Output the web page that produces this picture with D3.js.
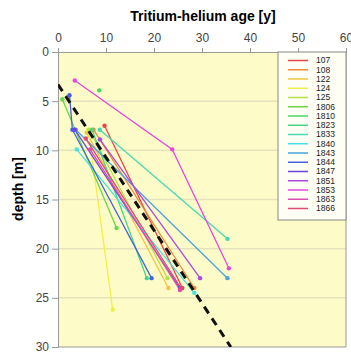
<!DOCTYPE html>
<html>
<head>
<meta charset="utf-8">
<script src="https://cdn.jsdelivr.net/npm/d3@7"></script>
<style>
  body { margin: 0; background: #fff; }
  svg { display: block; font-family: "Liberation Sans", Arial, sans-serif; }
</style>
</head>
<body>
<div id="chart"></div>
<script>
const wells = ["107", "108", "122", "124", "125", "1806", "1810", "1823", "1833", "1840",
               "1843", "1844", "1847", "1851", "1853", "1863", "1866"]
const colors = ["#e8444c", "#f08a3c", "#f2c440", "#f2ee48", "#b4e244", "#6ad848", "#48d860", "#48d684",
                "#48d8b4", "#44e2e6", "#4aa2e0", "#4462e0", "#6a44e0", "#aa48e2", "#e448e2", "#e04cb4", "#e04a74"]
// each well: [age in years, depth in m]
const ages = [
  [9.7, 25.9], [7.4, 28.4], [6.0, 23.0], [6.3, 11.4], [6.5, 22.8], [0.9, 12.2], [8.6],
  [7.1, 18.5], [8.7, 35.3], [3.9, 28.4], [3.7, 35.3], [2.4, 3.0, 19.5], [3.5, 25.4],
  [8.75, 29.6], [3.5, 23.8, 35.6], [6.7, 25.4], [5.8, 25.6]
]
const depths = [
  [7.5, 24.0], [7.9, 24.0], [8.2, 24.0], [7.9, 26.2], [7.9, 23.0], [4.8, 17.9], [3.9],
  [7.9, 23.0], [7.9, 19.0], [9.9, 24.5], [7.9, 23.0], [4.4, 7.9, 23.0], [7.9, 24.0],
  [8.9, 23.0], [2.9, 9.9, 22.0], [9.9, 24.2], [8.8, 24.0]
]
const pistonAge = [0, 36]
const pistonDepth = [3.3, 30]
const xTicks = [0, 10, 20, 30, 40, 50, 60]
const yTicks = [0, 5, 10, 15, 20, 25, 30]

const width = 351, height = 354
const margin = {top: 52, right: 5, bottom: 7, left: 58}

const svg = d3.select("#chart").append("svg")
  .attr("width", width).attr("height", height)

const x = d3.scaleLinear().domain([0, 60]).range([margin.left, width - margin.right])
const y = d3.scaleLinear().domain([0, 30]).range([margin.top, height - margin.bottom])

svg.append("defs").append("clipPath").attr("id", "clip")
  .append("rect")
  .attr("x", x(0)).attr("y", y(0))
  .attr("width", x(60) - x(0)).attr("height", y(30) - y(0))

svg.append("rect")
  .attr("x", x(0)).attr("y", y(0))
  .attr("width", x(60) - x(0)).attr("height", y(30) - y(0))
  .attr("fill", "#fdfcc9")

svg.append("g").selectAll("line")
  .data(yTicks.slice(1, -1))
  .join("line")
  .attr("x1", x(0)).attr("x2", x(60))
  .attr("y1", d => y(d)).attr("y2", d => y(d))
  .attr("stroke", "#e6e2bc").attr("stroke-width", 1.5)

const xAxis = svg.append("g")
  .attr("transform", `translate(0,${y(0)})`)
  .call(d3.axisTop(x).tickValues(xTicks).tickSize(4).tickPadding(6))
const yAxis = svg.append("g")
  .attr("transform", `translate(${x(0)},0)`)
  .call(d3.axisLeft(y).tickValues(yTicks).tickSize(6).tickPadding(3))
for (const g of [xAxis, yAxis]) {
  g.selectAll("text").attr("font-size", 12).attr("fill", "#444")
  g.selectAll("line").attr("stroke", "#999")
  g.select(".domain").attr("stroke", "#999")
}
xAxis.selectAll("text").attr("dy", "0")

// bottom and right frame
svg.append("path")
  .attr("d", `M${x(0)},${y(30)}H${x(60)}V${y(0)}`)
  .attr("fill", "none").attr("stroke", "#999")

svg.append("text")
  .attr("x", 203).attr("y", 21)
  .attr("text-anchor", "middle")
  .attr("font-size", 14).attr("font-weight", "bold")
  .text("Tritium-helium age [y]")

svg.append("text")
  .attr("transform", "translate(23,189) rotate(-90)")
  .attr("text-anchor", "middle")
  .attr("font-size", 14).attr("font-weight", "bold")
  .text("depth [m]")

const series = wells.map((w, i) => ({
  name: w,
  color: colors[i],
  points: ages[i].map((a, j) => [a, depths[i][j]])
}))

const plot = svg.append("g").attr("clip-path", "url(#clip)")
const line = d3.line().x(d => x(d[0])).y(d => y(d[1]))

plot.selectAll("path.well")
  .data(series)
  .join("path")
  .attr("class", "well")
  .attr("d", d => line(d.points))
  .attr("fill", "none")
  .attr("stroke", d => d.color)
  .attr("stroke-width", 1.3)

series.forEach(s => {
  plot.append("g").selectAll("circle")
    .data(s.points)
    .join("circle")
    .attr("cx", d => x(d[0])).attr("cy", d => y(d[1]))
    .attr("r", 2.2)
    .attr("fill", s.color)
})

plot.append("path")
  .attr("d", line(pistonAge.map((a, i) => [a, pistonDepth[i]])))
  .attr("fill", "none")
  .attr("stroke", "#111")
  .attr("stroke-width", 3)
  .attr("stroke-dasharray", "8,6")

// legend
const lx = 278, ly = 52, lw = 68, lh = 168
svg.append("rect")
  .attr("x", lx).attr("y", ly).attr("width", lw).attr("height", lh)
  .attr("fill", "#fefef4").attr("stroke", "#888")

const leg = svg.append("g").selectAll("g")
  .data(series)
  .join("g")
  .attr("transform", (d, i) => `translate(${lx},${ly + 8.5 + i * 9.25})`)
leg.append("line")
  .attr("x1", 10).attr("x2", 30)
  .attr("stroke", d => d.color).attr("stroke-width", 1.5)
leg.append("text")
  .attr("x", 38).attr("dy", "0.35em")
  .attr("font-size", 8.5)
  .attr("fill", "#222")
  .text(d => d.name)
</script>
</body>
</html>
